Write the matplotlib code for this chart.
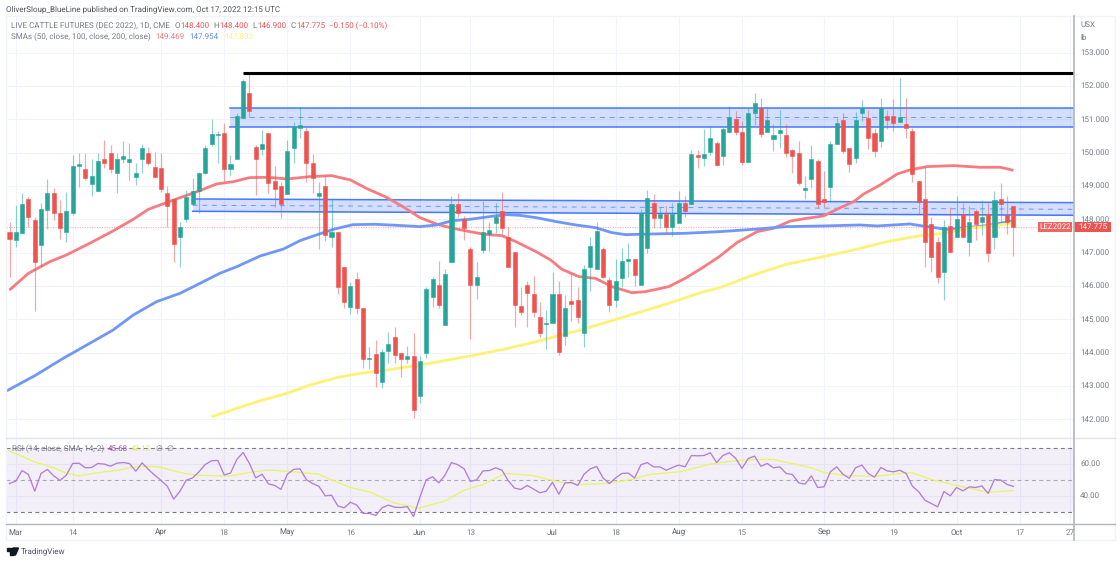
"""Live cattle futures (Dec 2022), daily candles with SMAs and an RSI pane."""

import matplotlib
matplotlib.use('Agg')
import matplotlib.pyplot as plt
from matplotlib.patches import Circle, Polygon, Rectangle

plt.rcParams['text.hinting'] = 'no_hinting'
plt.rcParams['text.hinting_factor'] = 1

W, H = 1120, 563

# candles, one per session, first one is Feb 28
opens = [147.61, 147.38, 147.60, 148.60, 147.98, 147.23, 148.28, 148.80, 148.18, 147.63,
         148.18, 149.60, 149.51, 149.06, 148.84, 149.80, 149.98, 149.38, 149.82, 149.73,
         149.28, 149.80, 149.98, 149.58, 149.53, 148.80, 148.60, 147.46, 148.00, 148.46,
         148.84, 149.38, 150.26, 150.54, 150.60, 149.50, 149.80, 151.05, 151.78, 150.18,
         150.12, 150.58, 149.15, 149.00, 148.76, 150.13, 150.73, 150.66, 149.68, 148.70,
         149.00, 147.46, 147.63, 146.56, 145.38, 146.20, 145.35, 143.80, 143.95, 143.11,
         144.06, 144.46, 143.99, 143.82, 143.90, 142.70, 144.00, 145.68, 146.03, 144.82,
         146.73, 148.47, 148.00, 147.10, 146.04, 147.07, 147.56, 147.90, 148.25, 147.48,
         147.01, 145.40, 146.03, 145.76, 145.08, 144.87, 144.90, 145.76, 144.50, 145.55,
         145.58, 144.60, 146.58, 146.50, 147.10, 146.18, 145.59, 146.25, 146.74, 146.80,
         146.04, 147.15, 148.48, 148.05, 148.17, 147.77, 147.90, 148.48, 148.45, 149.92,
         149.83, 150.02, 150.28, 149.90, 150.63, 151.00, 150.63, 149.73, 151.20, 151.33,
         150.63, 150.40, 150.60, 150.52, 150.08, 149.98, 148.89, 149.21, 149.75, 148.61,
         148.98, 150.25, 150.97, 150.13, 149.85, 151.20, 151.05, 150.59, 150.35, 151.09,
         151.10, 150.92, 150.85, 150.65, 149.15, 148.60, 147.86, 147.33, 146.41, 147.80,
         147.47, 148.16, 147.32, 148.25, 147.92, 148.17, 147.48, 148.60, 148.12, 148.40]
highs = [147.93, 148.43, 148.80, 148.68, 148.08, 148.48, 149.20, 148.95, 148.58, 148.83,
         149.93, 149.98, 149.98, 149.80, 149.98, 150.38, 150.23, 149.98, 150.36, 150.28,
         149.68, 150.26, 150.18, 150.03, 149.98, 149.00, 148.60, 147.93, 148.88, 149.23,
         149.43, 150.23, 151.00, 150.65, 150.88, 149.93, 151.18, 152.20, 152.36, 150.23,
         150.68, 150.58, 149.61, 149.13, 150.38, 150.93, 151.36, 150.76, 149.96, 149.13,
         149.33, 148.60, 147.63, 146.56, 146.13, 146.41, 145.35, 144.18, 144.38, 144.10,
         144.62, 144.78, 143.99, 144.20, 144.58, 143.90, 145.98, 146.28, 146.75, 146.50,
         148.70, 148.78, 148.10, 147.18, 146.73, 148.55, 147.93, 148.48, 148.83, 147.78,
         147.01, 145.98, 146.16, 146.30, 145.51, 145.28, 146.43, 146.15, 145.73, 146.38,
         145.98, 146.63, 147.48, 147.93, 147.18, 146.26, 146.80, 147.13, 147.28, 146.80,
         148.30, 148.88, 148.76, 148.38, 148.40, 148.48, 148.86, 148.70, 150.08, 150.08,
         150.71, 150.80, 150.35, 150.78, 151.40, 151.26, 150.95, 151.33, 151.78, 151.63,
         151.35, 150.86, 151.28, 150.85, 150.10, 150.35, 149.31, 150.23, 149.80, 149.45,
         150.36, 151.03, 151.18, 150.13, 151.23, 151.58, 151.28, 150.73, 151.65, 151.28,
         151.60, 152.23, 151.63, 150.73, 149.15, 149.58, 148.08, 147.48, 147.98, 148.38,
         148.70, 148.50, 148.41, 148.31, 148.58, 148.48, 148.86, 149.08, 148.70, 148.40]
lows = [146.28, 147.18, 147.55, 147.78, 145.26, 146.58, 147.70, 147.98, 147.41, 147.33,
        148.13, 148.96, 149.18, 148.70, 148.84, 149.53, 149.38, 148.80, 149.68, 149.18,
        149.03, 149.38, 149.63, 149.28, 148.83, 147.78, 146.73, 146.58, 147.93, 148.46,
        148.18, 149.36, 150.20, 149.70, 149.16, 149.30, 149.80, 151.03, 151.08, 148.73,
        149.93, 148.78, 148.38, 148.03, 148.76, 149.68, 150.43, 149.13, 148.78, 147.10,
        147.36, 147.18, 145.76, 145.33, 145.16, 145.16, 143.55, 143.50, 142.96, 142.95,
        143.70, 143.70, 143.28, 143.70, 142.03, 142.48, 143.85, 145.38, 145.33, 144.82,
        146.73, 148.08, 147.38, 144.40, 145.62, 147.00, 147.06, 147.60, 147.58, 146.56,
        144.78, 145.13, 144.76, 145.06, 144.46, 144.10, 144.90, 143.93, 144.22, 144.96,
        144.88, 144.18, 145.86, 146.50, 146.23, 145.23, 145.36, 145.98, 146.28, 146.00,
        146.04, 146.98, 147.73, 147.73, 147.58, 147.50, 147.90, 148.08, 148.45, 149.53,
        149.60, 149.93, 149.60, 149.63, 150.60, 150.53, 149.63, 149.73, 150.83, 150.48,
        150.63, 150.05, 150.15, 149.88, 149.40, 149.03, 148.61, 148.93, 148.33, 148.36,
        148.53, 150.25, 149.98, 149.41, 149.68, 150.96, 150.11, 149.88, 150.18, 150.71,
        150.65, 150.92, 150.45, 149.11, 148.16, 146.58, 146.41, 146.08, 145.58, 147.03,
        147.47, 147.48, 146.90, 147.38, 147.54, 146.73, 147.11, 147.93, 147.56, 146.90]
closes = [147.41, 147.61, 148.45, 148.08, 146.73, 148.30, 148.80, 148.18, 147.75, 148.26,
          149.60, 149.66, 149.23, 149.30, 149.74, 149.68, 149.51, 149.82, 149.90, 149.82,
          149.38, 150.13, 149.68, 149.28, 148.90, 148.40, 147.26, 147.76, 148.68, 148.84,
          149.38, 150.13, 150.55, 150.57, 149.50, 149.66, 151.11, 152.16, 151.26, 149.81,
          150.26, 149.10, 148.90, 148.45, 150.05, 150.78, 150.83, 149.68, 149.23, 148.80,
          147.53, 147.63, 145.98, 145.53, 146.00, 145.35, 143.80, 143.84, 143.40, 144.02,
          144.25, 143.92, 143.82, 143.90, 142.28, 143.75, 145.90, 146.21, 145.43, 146.36,
          148.47, 148.19, 147.75, 146.04, 146.26, 147.61, 147.68, 148.08, 147.75, 146.56,
          145.43, 145.23, 145.80, 145.23, 144.60, 144.89, 145.76, 144.03, 145.35, 145.46,
          145.06, 146.50, 147.20, 147.64, 146.28, 145.43, 146.14, 146.75, 146.82, 146.33,
          148.18, 148.63, 148.05, 148.17, 147.77, 148.17, 148.48, 148.25, 149.96, 149.88,
          149.97, 150.43, 149.64, 150.71, 151.08, 150.63, 149.73, 151.20, 151.50, 150.55,
          150.98, 150.52, 150.67, 149.98, 149.90, 149.08, 148.93, 149.81, 148.46, 148.53,
          150.25, 150.88, 150.05, 149.65, 150.97, 151.33, 150.45, 150.05, 151.33, 150.97,
          150.88, 151.08, 150.73, 149.35, 148.53, 147.33, 146.88, 146.26, 147.78, 147.03,
          148.02, 147.48, 147.92, 147.86, 148.06, 147.00, 148.57, 148.45, 147.92, 147.775]

# moving averages, read as (session, price)
sma50_x = [0, 3, 6.4, 9, 12.7, 16.2, 19.6, 22, 26, 30, 32.8, 35.5, 38, 41, 44, 47.6, 51, 54, 56.5,
           59.7, 62.3, 65, 67.6, 70.2, 72.9, 75.2, 78, 80.2, 83.4, 85.7, 87.5, 90.2, 92.8, 95.4,
           98.6, 100.7, 104.4, 107, 109.6, 112.4, 115.2, 118.4, 121, 123.7, 126.3, 128.9, 131.6,
           133.7, 135.3, 137.9, 140.6, 142.6, 145.3, 149.5, 153.7, 156.9, 159]
sma50_y = [145.88, 146.38, 146.73, 146.93, 147.28, 147.63, 148.00, 148.30, 148.58, 148.85, 149.06,
           149.13, 149.25, 149.26, 149.21, 149.28, 149.31, 149.18, 148.93, 148.66, 148.38, 148.05,
           147.86, 147.73, 147.63, 147.55, 147.51, 147.33, 147.03, 146.78, 146.50, 146.28, 146.23,
           145.98, 145.80, 145.83, 145.98, 146.23, 146.53, 146.88, 147.30, 147.63, 147.73, 147.95,
           148.03, 148.10, 148.35, 148.53, 148.76, 149.03, 149.36, 149.48, 149.58, 149.61, 149.56,
           149.56, 149.469]
sma100_x = [-0.5, 4, 8.5, 12.7, 16.4, 19.6, 23.3, 27, 30.7, 33.3, 36, 39.7, 43.4, 46, 48.6, 51.3, 54.4,
            58, 62.3, 65, 67.6, 70.2, 72.9, 76, 78.7, 80.8, 83.4, 86.6, 89.7, 92.8, 95.4, 97.6,
            101.7, 107, 112.5, 117.8, 123, 128.9, 134.7, 137.4, 142.6, 145.3, 148.5, 151.6, 154.8, 159]
sma100_y = [142.85, 143.31, 143.83, 144.28, 144.68, 145.13, 145.53, 145.78, 146.13, 146.38, 146.58,
            146.90, 147.11, 147.36, 147.53, 147.70, 147.84, 147.85, 147.81, 147.78, 147.83, 147.96,
            148.00, 148.08, 148.14, 148.12, 148.05, 147.93, 147.83, 147.75, 147.60, 147.54, 147.56,
            147.58, 147.63, 147.70, 147.78, 147.80, 147.83, 147.80, 147.86, 147.78, 147.70, 147.75,
            147.81, 147.954]
sma200_x = [32, 34.4, 39.7, 43.9, 47.6, 51.8, 55.5, 58.7, 65, 72.9, 78.2, 83.4, 90.8, 96.6, 104.4,
            109.6, 112.5, 117.8, 123, 128.9, 133.7, 139, 144.2, 148, 151.6, 154.8, 159]
sma200_y = [142.08, 142.23, 142.56, 142.78, 143.03, 143.25, 143.38, 143.45, 143.63, 143.90, 144.10,
            144.33, 144.70, 145.03, 145.48, 145.81, 145.95, 146.33, 146.65, 146.88, 147.08, 147.33,
            147.51, 147.58, 147.73, 147.78, 147.892]

# RSI per session and its slower average
rsi = [47.5, 49, 55.6, 53.1, 42.7, 53.8, 56.3, 52.3, 49.4, 52.7, 60, 60.2, 57.3, 57.5, 60, 59.6,
       58.3, 60.2, 60.6, 60, 55.2, 60.4, 56.3, 52.7, 49.4, 45.8, 37.7, 42.7, 49.6, 51, 54.8, 59.4,
       61.7, 61.9, 52.9, 54, 62.5, 66.9, 60, 51, 53.3, 47.3, 46.3, 43.8, 53.3, 56.3, 56.7, 50,
       47.5, 45.8, 39.8, 40.2, 33.5, 32.3, 35.8, 34, 28.8, 28.8, 27.5, 32.3, 34, 32.7, 32.5, 33.1,
       26.9, 39, 49.8, 51.7, 47.9, 52.9, 60.6, 59.2, 56.7, 48.8, 49.8, 55.4, 55.6, 57.3, 55.8,
       49.2, 44.6, 43.8, 46.3, 44, 41.7, 42.7, 48.3, 40.8, 47.9, 48.1, 46.3, 53.3, 56.7, 58.1, 51,
       47.5, 51, 53.8, 54, 51, 59.2, 60.6, 57.9, 57.9, 55.8, 57.5, 59, 57.9, 65, 64.8, 65, 66.7,
       60.6, 65, 66.7, 63.3, 56.9, 63.1, 64.6, 58.3, 60, 57.3, 57.9, 53.8, 53.1, 47.9, 47.1, 52.3,
       45, 45.4, 54.8, 57.9, 53.3, 50.8, 57.3, 59, 53.8, 51.5, 57.5, 55.4, 54.8, 55.8, 53.8, 45.8,
       42.3, 37, 35, 32.9, 42.5, 39.8, 45, 42.9, 45.4, 45, 46, 41.3, 50, 49.6, 46.9, 45.68]
rsi_sma_x = [-0.5, 4, 7, 9.2, 11, 15, 17, 19, 21, 23.4, 26.8, 29.6, 34.7, 38, 41, 44.3, 49, 50.5, 54,
             57.3, 60.7, 64.7, 69, 72, 75, 78.5, 82.8, 87.2, 90.6, 94.6, 98.5, 101.3, 106.4, 111,
             114.4, 118.3, 121, 126.8, 129, 132.4, 137, 141.5, 143, 146, 150, 155, 159]
rsi_sma_y = [68.8, 61, 57.3, 53.8, 52.3, 54.8, 55.6, 57.3, 58.3, 58.1, 54.6, 52.7, 52.1, 54.4, 56, 55,
             53.3, 50.6, 45, 41.9, 35.6, 32.1, 36.5, 43.3, 46.9, 53.8, 52.5, 48.3, 46.9, 47.5, 50,
             53.1, 55, 59.6, 61.5, 62.5, 62.5, 57.5, 54.4, 52.5, 51.9, 54, 54.2, 50, 46.3, 42, 43.12]

# drawn zones and resistance
zone_upper = (150.78, 151.06, 151.33)
zone_lower_start = (148.24, 148.42, 148.61)
zone_lower_end = (148.12, 148.30, 148.50)
zone_upper_from = 35
zone_lower_from = 29
resistance = 152.38
resistance_from = 37
last_price = 147.775

time_ticks = [1, 10, 24, 34, 44, 54, 65, 73, 86, 96, 106, 116, 129, 140, 150, 160, 168]
time_labels = ['Mar', '14', 'Apr', '18', 'May', '16', 'Jun', '13', 'Jul', '18', 'Aug', '15', 'Sep',
               '19', 'Oct', '17', '27']
price_ticks = [142, 143, 144, 145, 146, 147, 148, 149, 150, 151, 152, 153]
rsi_ticks = [40, 60]

GREEN = '#26a69a'
RED = '#ef5350'
GREY = '#787b86'
GRID = '#f0f3fa'
AXIS = '#b2b5be'
ZONE = '#2962ff'
FONT = ['Roboto', 'DejaVu Sans']
SMALL = 5.5

# layout in pixels of the picture
LEFT, RIGHT = 6, 1073.5
MAIN_TOP, MAIN_BOTTOM = 17, 438
RSI_BOTTOM = 524
AXIS_BOTTOM = 540
FRAME_RIGHT = 1115
X0, STEP = 9.5, 6.314          # centre of first candle, px per session
PY148, PX_PER_USD = 219.3, 33.35
RY50, PX_PER_RSI = 479.5, 1.6


def px_axes(fig, left, top, right, bottom):
    ax = fig.add_axes([left / W, 1 - bottom / H, (right - left) / W, (bottom - top) / H])
    for s in ax.spines.values():
        s.set_visible(False)
    ax.tick_params(left=False, bottom=False, labelleft=False, labelbottom=False)
    ax.set_xlim((LEFT - X0) / STEP, (RIGHT - X0) / STEP)
    ax.set_axisbelow(True)
    return ax


def fig_text(fig, x, y, s, **kw):
    kw.setdefault('family', FONT)
    kw.setdefault('fontsize', SMALL)
    kw.setdefault('color', GREY)
    kw.setdefault('va', 'center')
    return fig.text(x / W, 1 - y / H, s, **kw)


def text_row(fig, x, y, parts):
    # pieces of different colour, one after the other: (text, colour, gap after it)
    rend = fig.canvas.get_renderer()
    for s, color, gap in parts:
        t = fig_text(fig, x, y, s, color=color)
        x = t.get_window_extent(rend).x1 + gap


def fig_line(fig, xs, ys, **kw):
    fig.add_artist(plt.Line2D([v / W for v in xs], [1 - v / H for v in ys],
                              transform=fig.transFigure, **kw))


def draw_candles(ax):
    for i, (o, h, l, c) in enumerate(zip(opens, highs, lows, closes)):
        color = GREEN if c >= o else RED
        ax.vlines(i, l, h, color=color, lw=0.85, alpha=0.5, zorder=3)
        ax.bar(i, abs(c - o), bottom=min(o, c), width=0.64, color=color, edgecolor=color,
               linewidth=0.4, zorder=4)


def draw_zones(ax):
    xmax = ax.get_xlim()[1]
    x_up = [zone_upper_from, xmax]
    ax.fill_between(x_up, zone_upper[0], zone_upper[2], color=ZONE, alpha=0.2, lw=0, zorder=1)
    ax.plot(x_up, [zone_upper[0]] * 2, color=ZONE, lw=1.1, alpha=0.85, zorder=1.5)
    ax.plot(x_up, [zone_upper[2]] * 2, color=ZONE, lw=1.1, alpha=0.85, zorder=1.5)
    ax.plot(x_up, [zone_upper[1]] * 2, color=ZONE, lw=0.7, alpha=0.6, ls=(0, (5, 5)), zorder=1.5)

    x_lo = [zone_lower_from, xmax]
    lo = [zone_lower_start[0], zone_lower_end[0]]
    mid = [zone_lower_start[1], zone_lower_end[1]]
    up = [zone_lower_start[2], zone_lower_end[2]]
    ax.fill_between(x_lo, lo, up, color=ZONE, alpha=0.2, lw=0, zorder=1)
    ax.plot(x_lo, lo, color=ZONE, lw=1.1, alpha=0.85, zorder=1.5)
    ax.plot(x_lo, up, color=ZONE, lw=1.1, alpha=0.85, zorder=1.5)
    ax.plot(x_lo, mid, color=ZONE, lw=0.7, alpha=0.6, ls=(0, (5, 5)), zorder=1.5)


def draw_main(fig):
    ax = px_axes(fig, LEFT, MAIN_TOP, RIGHT, MAIN_BOTTOM)
    ax.set_ylim(148 + (PY148 - MAIN_BOTTOM) / PX_PER_USD, 148 + (PY148 - MAIN_TOP) / PX_PER_USD)
    ax.set_xticks(time_ticks)
    ax.set_yticks(price_ticks)
    ax.grid(True, color=GRID, lw=0.8)

    draw_zones(ax)
    ax.plot(sma50_x, sma50_y, color='#f77c80', lw=2.0, zorder=2, solid_capstyle='butt')
    ax.plot(sma100_x, sma100_y, color='#7096fa', lw=2.0, zorder=2, solid_capstyle='butt')
    ax.plot(sma200_x, sma200_y, color='#fff176', lw=2.0, zorder=2, solid_capstyle='butt')
    draw_candles(ax)
    ax.plot([resistance_from, ax.get_xlim()[1]], [resistance] * 2, color='black', lw=2.2, zorder=5,
            solid_capstyle='butt')
    ax.axhline(last_price, color=RED, lw=0.8, alpha=0.45, ls=(0, (1, 1.2)), zorder=1.8)
    return ax


def draw_rsi(fig):
    ax = px_axes(fig, LEFT, MAIN_BOTTOM, RIGHT, RSI_BOTTOM)
    ax.set_ylim(50 - (RSI_BOTTOM - RY50) / PX_PER_RSI, 50 + (RY50 - MAIN_BOTTOM) / PX_PER_RSI)
    ax.set_xticks(time_ticks)
    ax.set_yticks(rsi_ticks)
    ax.grid(True, color=GRID, lw=0.8)
    ax.axhspan(30, 70, color='#7e57c2', alpha=0.09, lw=0, zorder=1)
    for level, alpha in [(70, 1), (50, 0.6), (30, 1)]:
        ax.axhline(level, color=GREY, lw=0.8, alpha=alpha, ls=(0, (3.5, 3)), zorder=1.5)
    ax.plot(range(len(rsi)), rsi, color='#b07fd8', lw=0.95, zorder=3)
    ax.plot(rsi_sma_x, rsi_sma_y, color='#e6f56a', lw=0.95, zorder=2)
    return ax


def draw_logo(fig):
    # TradingView mark, just a small shape next to the name
    bits = [Polygon([(6.5, 548), (12.5, 548), (12.5, 555), (9.5, 555), (9.5, 550.5), (6.5, 550.5)]),
            Polygon([(15.3, 548), (18.5, 548), (15.5, 555), (12.5, 555)]),
            Circle((14, 549.2), 1.3)]
    for b in bits:
        b.set_color('#131722')
        b.set_transform(matplotlib.transforms.Affine2D().scale(1 / W, -1 / H).translate(0, 1)
                        + fig.transFigure)
        fig.add_artist(b)


def main():
    fig = plt.figure(figsize=(W / 100, H / 100), dpi=100, facecolor='white')
    draw_main(fig)
    draw_rsi(fig)

    # frame and separators
    fig_line(fig, [LEFT, FRAME_RIGHT, FRAME_RIGHT, LEFT, LEFT],
             [16, 16, AXIS_BOTTOM, AXIS_BOTTOM, 16], color=GRID, lw=1.0)
    fig_line(fig, [LEFT, FRAME_RIGHT], [MAIN_BOTTOM, MAIN_BOTTOM], color='#e0e3eb', lw=1.0)
    fig_line(fig, [LEFT, FRAME_RIGHT], [RSI_BOTTOM, RSI_BOTTOM], color=AXIS, lw=1.0)
    fig_line(fig, [RIGHT, RIGHT], [16, AXIS_BOTTOM], color=AXIS, lw=1.2)

    # header
    fig_text(fig, 6, 8.8, 'OliverSloup_BlueLine published on TradingView.com, Oct 17, 2022 12:15 UTC',
             color='#50535e', fontsize=6.05)
    text_row(fig, 11, 26, [('LIVE CATTLE FUTURES (DEC 2022), 1D, CME', GREY, 4.5),
                           ('O', GREY, 0.4), ('148.400', RED, 4),
                           ('H', GREY, 0.4), ('148.400', RED, 4),
                           ('L', GREY, 0.4), ('146.900', RED, 4),
                           ('C', GREY, 0.4), ('147.775', RED, 4),
                           ('\u22120.150 (\u22120.10%)', RED, 0)])
    text_row(fig, 11, 36.5, [('SMAs (50, close, 100, close, 200, close)', GREY, 5),
                             ('149.469', '#f77c80', 5), ('147.954', '#5b8cf6', 5),
                             ('147.892', '#fff176', 0)])
    text_row(fig, 11.5, 448.5, [('RSI (14, close, SMA, 14, 2)', GREY, 4),
                                ('45.68', '#ab47bc', 3), ('43.12', '#dcec5a', 5),
                                ('\u2205', GREY, 4), ('\u2205', GREY, 0)])

    # price axis
    fig_text(fig, 1080, 25, 'USX')
    fig_text(fig, 1080, 38, 'lb')
    for p in price_ticks:
        fig_text(fig, 1080, PY148 - (p - 148) * PX_PER_USD, f'{p}.000')
    for r in rsi_ticks:
        fig_text(fig, 1080, RY50 - (r - 50) * PX_PER_RSI, f'{r}.00')

    # last price labels
    y_last = PY148 - (last_price - 148) * PX_PER_USD
    fig.add_artist(Rectangle((1038 / W, 1 - 232 / H), 34 / W, 10 / H, color=RED, alpha=0.9,
                             transform=fig.transFigure, lw=0))
    fig.add_artist(Rectangle((1074 / W, 1 - 232 / H), 37 / W, 10 / H, color=RED,
                             transform=fig.transFigure, lw=0))
    fig_text(fig, 1055, y_last, 'LEZ2022', color='white', ha='center')
    fig_text(fig, 1092.5, y_last, f'{last_price:.3f}', color='white', ha='center')

    # time axis
    for i, label in zip(time_ticks, time_labels):
        color = '#5d606b' if label.isalpha() else GREY
        fig_text(fig, X0 + i * STEP, 532.5, label, ha='center', color=color, fontsize=6.0)

    draw_logo(fig)
    fig_text(fig, 21, 551, 'TradingView', color='#50535e', fontsize=6.0)

    fig.savefig('out.png', dpi=100)


if __name__ == '__main__':
    main()
